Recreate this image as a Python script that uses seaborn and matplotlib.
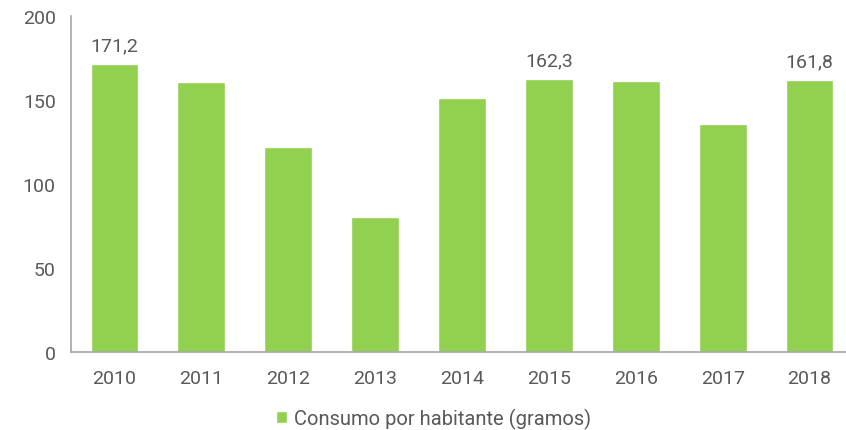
import pandas as pd
import matplotlib
matplotlib.use("Agg")
import matplotlib.pyplot as plt
import seaborn as sns

# Data
years = ["2010", "2011", "2012", "2013", "2014", "2015", "2016", "2017", "2018"]
consumo = [171.2, 160.5, 122.3, 80.5, 151.4, 162.3, 161.4, 136.0, 161.8]
labelled_years = ["2010", "2015", "2018"]
serie = "Consumo por habitante (gramos)"

df = pd.DataFrame({"Año": years, "Consumo": consumo, "Serie": serie})

sns.set_style("white")
plt.rcParams["font.family"] = ["Roboto", "DejaVu Sans"]

text_col = "#595959"
axis_col = "#A6A6A6"
green = "#92D050"

fig = plt.figure(figsize=(8.46, 4.31), dpi=100)
ax = fig.add_axes([71 / 846, 78 / 431, 782 / 846, 336 / 431])

sns.barplot(data=df, x="Año", y="Consumo", hue="Serie", palette=[green],
            saturation=1, width=0.55, ax=ax, legend=True)

# data labels on selected bars
for i, (yr, val) in enumerate(zip(years, consumo)):
    if yr in labelled_years:
        ax.annotate(f"{val:.1f}".replace(".", ","), (i, val), xytext=(0, 7),
                    textcoords="offset points", ha="center", va="bottom",
                    fontsize=14, color=text_col)

ax.set_ylim(0, 200)
ax.set_xlim(-0.5, len(years) - 0.5)
ax.set_yticks([0, 50, 100, 150, 200])
ax.set_xlabel("")
ax.set_ylabel("")

# category boundaries as minor ticks, labels at centres
ax.set_xticks([i + 0.5 for i in range(-1, len(years))], minor=True)
ax.tick_params(axis="x", which="major", length=0, pad=12, labelsize=14, labelcolor=text_col)
ax.tick_params(axis="x", which="minor", length=6, width=1, color=axis_col, direction="out")
ax.tick_params(axis="y", length=5, width=1, color=axis_col, direction="out",
               labelsize=14, labelcolor=text_col, pad=6)

for side in ["top", "right"]:
    ax.spines[side].set_visible(False)
for side in ["left", "bottom"]:
    ax.spines[side].set_color(axis_col)
    ax.spines[side].set_linewidth(1.2)

leg = ax.get_legend()
handles = leg.legend_handles
leg.remove()
fig.legend(handles, [serie], loc="center", bbox_to_anchor=(0.512, 0.027),
           frameon=False, fontsize=14.5, labelcolor=text_col,
           handlelength=0.55, handleheight=0.55, handletextpad=0.35)

fig.savefig("out.png", dpi=100)
